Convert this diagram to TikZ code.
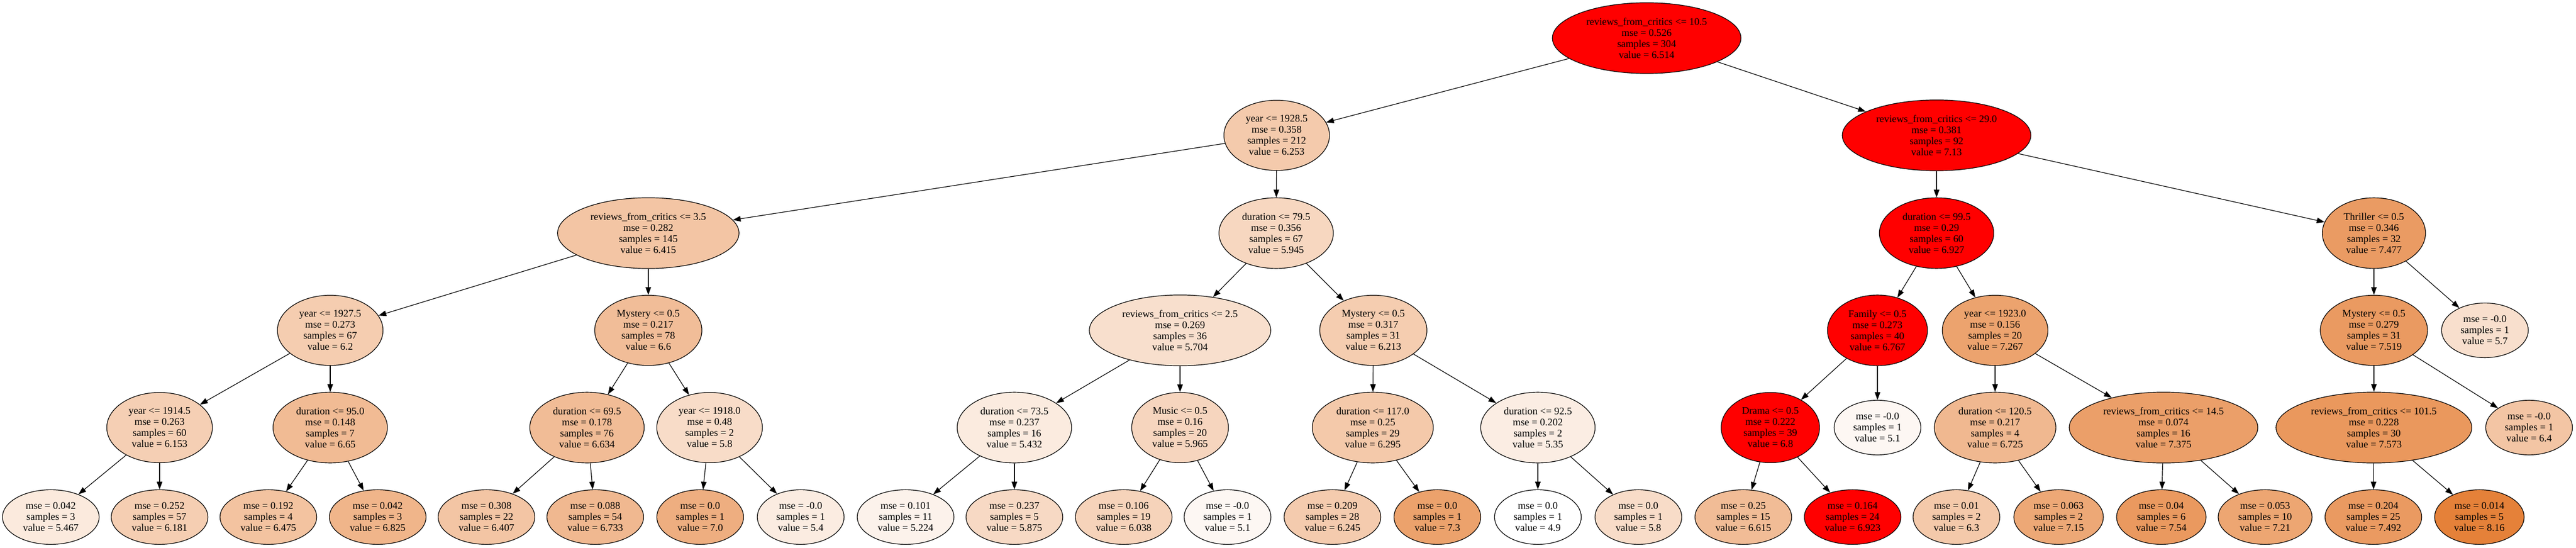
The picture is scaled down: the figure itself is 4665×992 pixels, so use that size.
\documentclass[tikz,border=0pt]{standalone}
\usepackage{fontspec}
\setmainfont{Liberation Serif}
\usetikzlibrary{shapes.geometric,arrows.meta}
\definecolor{gvorange}{HTML}{E58139}

\begin{document}
\begin{tikzpicture}[x=1pt,y=-1pt,line width=1.2pt,
  >={Triangle[length=14pt,width=10pt]},
  nd/.style={draw,ellipse,fill=gvorange!#1!white,align=center,
    inner xsep=11.5pt,inner ysep=8.7pt,font=\fontsize{18.4}{20}\selectfont},
  hot/.style={nd=0,fill=red}]
\useasboundingbox (0,0) rectangle (4665,992);
% rank 0 and 1
\node[hot] (R) at (2982,69) {reviews\_from\_critics <= 10.5\\mse = 0.526\\samples = 304\\value = 6.514};
\node[nd=42] (A) at (2312,245) {year <= 1928.5\\mse = 0.358\\samples = 212\\value = 6.253};
\node[hot] (B) at (3507,245) {reviews\_from\_critics <= 29.0\\mse = 0.381\\samples = 92\\value = 7.13};
% rank 2
\node[nd=46] (AA) at (1174,422) {reviews\_from\_critics <= 3.5\\mse = 0.282\\samples = 145\\value = 6.415};
\node[nd=32] (AB) at (2311,422) {duration <= 79.5\\mse = 0.356\\samples = 67\\value = 5.945};
\node[hot] (BA) at (3507,422) {duration <= 99.5\\mse = 0.29\\samples = 60\\value = 6.927};
\node[nd=79] (BB) at (4299,422) {Thriller <= 0.5\\mse = 0.346\\samples = 32\\value = 7.477};
% rank 3
\node[nd=40] (AAA) at (598,598) {year <= 1927.5\\mse = 0.273\\samples = 67\\value = 6.2};
\node[nd=52] (AAB) at (1174,598) {Mystery <= 0.5\\mse = 0.217\\samples = 78\\value = 6.6};
\node[nd=25] (ABA) at (2137,598) {reviews\_from\_critics <= 2.5\\mse = 0.269\\samples = 36\\value = 5.704};
\node[nd=40] (ABB) at (2487,598) {Mystery <= 0.5\\mse = 0.317\\samples = 31\\value = 6.213};
\node[hot] (BAA) at (3400,598) {Family <= 0.5\\mse = 0.273\\samples = 40\\value = 6.767};
\node[nd=73] (BAB) at (3613,598) {year <= 1923.0\\mse = 0.156\\samples = 20\\value = 7.267};
\node[nd=80] (BBA) at (4299,598) {Mystery <= 0.5\\mse = 0.279\\samples = 31\\value = 7.519};
\node[nd=25] (BBB) at (4500,598) {mse = -0.0\\samples = 1\\value = 5.7};
% rank 4
\node[nd=38] (AAAA) at (289,774) {year <= 1914.5\\mse = 0.263\\samples = 60\\value = 6.153};
\node[nd=54] (AAAB) at (598,774) {duration <= 95.0\\mse = 0.148\\samples = 7\\value = 6.65};
\node[nd=53] (AABA) at (1063,774) {duration <= 69.5\\mse = 0.178\\samples = 76\\value = 6.634};
\node[nd=28] (AABB) at (1285,774) {year <= 1918.0\\mse = 0.48\\samples = 2\\value = 5.8};
\node[nd=16] (ABAA) at (1837,774) {duration <= 73.5\\mse = 0.237\\samples = 16\\value = 5.432};
\node[nd=33] (ABAB) at (2137,774) {Music <= 0.5\\mse = 0.16\\samples = 20\\value = 5.965};
\node[nd=43] (ABBA) at (2486,774) {duration <= 117.0\\mse = 0.25\\samples = 29\\value = 6.295};
\node[nd=14] (ABBB) at (2785,774) {duration <= 92.5\\mse = 0.202\\samples = 2\\value = 5.35};
\node[hot] (BAAA) at (3206,774) {Drama <= 0.5\\mse = 0.222\\samples = 39\\value = 6.8};
\node[nd=6] (BAAB) at (3400,774) {mse = -0.0\\samples = 1\\value = 5.1};
\node[nd=56] (BABA) at (3613,774) {duration <= 120.5\\mse = 0.217\\samples = 4\\value = 6.725};
\node[nd=76] (BABB) at (3918,774) {reviews\_from\_critics <= 14.5\\mse = 0.074\\samples = 16\\value = 7.375};
\node[nd=82] (BBAA) at (4299,774) {reviews\_from\_critics <= 101.5\\mse = 0.228\\samples = 30\\value = 7.573};
\node[nd=46] (BBAB) at (4580,774) {mse = -0.0\\samples = 1\\value = 6.4};
% leaves
\node[nd=17] (L1) at (92,936) {mse = 0.042\\samples = 3\\value = 5.467};
\node[nd=39] (L2) at (289,936) {mse = 0.252\\samples = 57\\value = 6.181};
\node[nd=48] (L3) at (486,936) {mse = 0.192\\samples = 4\\value = 6.475};
\node[nd=59] (L4) at (684,936) {mse = 0.042\\samples = 3\\value = 6.825};
\node[nd=46] (L5) at (881,936) {mse = 0.308\\samples = 22\\value = 6.407};
\node[nd=56] (L6) at (1078,936) {mse = 0.088\\samples = 54\\value = 6.733};
\node[nd=64] (L7) at (1268,936) {mse = 0.0\\samples = 1\\value = 7.0};
\node[nd=15] (L8) at (1450,936) {mse = -0.0\\samples = 1\\value = 5.4};
\node[nd=10] (L9) at (1640,936) {mse = 0.101\\samples = 11\\value = 5.224};
\node[nd=30] (L10) at (1837,936) {mse = 0.237\\samples = 5\\value = 5.875};
\node[nd=35] (L11) at (2035,936) {mse = 0.106\\samples = 19\\value = 6.038};
\node[nd=6] (L12) at (2223,936) {mse = -0.0\\samples = 1\\value = 5.1};
\node[nd=41] (L13) at (2413,936) {mse = 0.209\\samples = 28\\value = 6.245};
\node[nd=74] (L14) at (2603,936) {mse = 0.0\\samples = 1\\value = 7.3};
\node[nd=0] (L15) at (2785,936) {mse = 0.0\\samples = 1\\value = 4.9};
\node[nd=28] (L16) at (2967,936) {mse = 0.0\\samples = 1\\value = 5.8};
\node[nd=53] (L17) at (3157,936) {mse = 0.25\\samples = 15\\value = 6.615};
\node[hot] (L18) at (3355,936) {mse = 0.164\\samples = 24\\value = 6.923};
\node[nd=43] (L19) at (3543,936) {mse = 0.01\\samples = 2\\value = 6.3};
\node[nd=69] (L20) at (3728,936) {mse = 0.063\\samples = 2\\value = 7.15};
\node[nd=81] (L21) at (3914,936) {mse = 0.04\\samples = 6\\value = 7.54};
\node[nd=71] (L22) at (4102,936) {mse = 0.053\\samples = 10\\value = 7.21};
\node[nd=80] (L23) at (4298,936) {mse = 0.204\\samples = 25\\value = 7.492};
\node[nd=100] (L24) at (4490,936) {mse = 0.014\\samples = 5\\value = 8.16};
% edges
\foreach \p/\c in {R/A,R/B,A/AA,A/AB,B/BA,B/BB,
  AA/AAA,AA/AAB,AB/ABA,AB/ABB,BA/BAA,BA/BAB,BB/BBA,BB/BBB,
  AAA/AAAA,AAA/AAAB,AAB/AABA,AAB/AABB,ABA/ABAA,ABA/ABAB,ABB/ABBA,ABB/ABBB,
  BAA/BAAA,BAA/BAAB,BAB/BABA,BAB/BABB,BBA/BBAA,BBA/BBAB,
  AAAA/L1,AAAA/L2,AAAB/L3,AAAB/L4,AABA/L5,AABA/L6,AABB/L7,AABB/L8,
  ABAA/L9,ABAA/L10,ABAB/L11,ABAB/L12,ABBA/L13,ABBA/L14,ABBB/L15,ABBB/L16,
  BAAA/L17,BAAA/L18,BABA/L19,BABA/L20,BABB/L21,BABB/L22,BBAA/L23,BBAA/L24}
  \draw[->] (\p) -- (\c);
\end{tikzpicture}
\end{document}
